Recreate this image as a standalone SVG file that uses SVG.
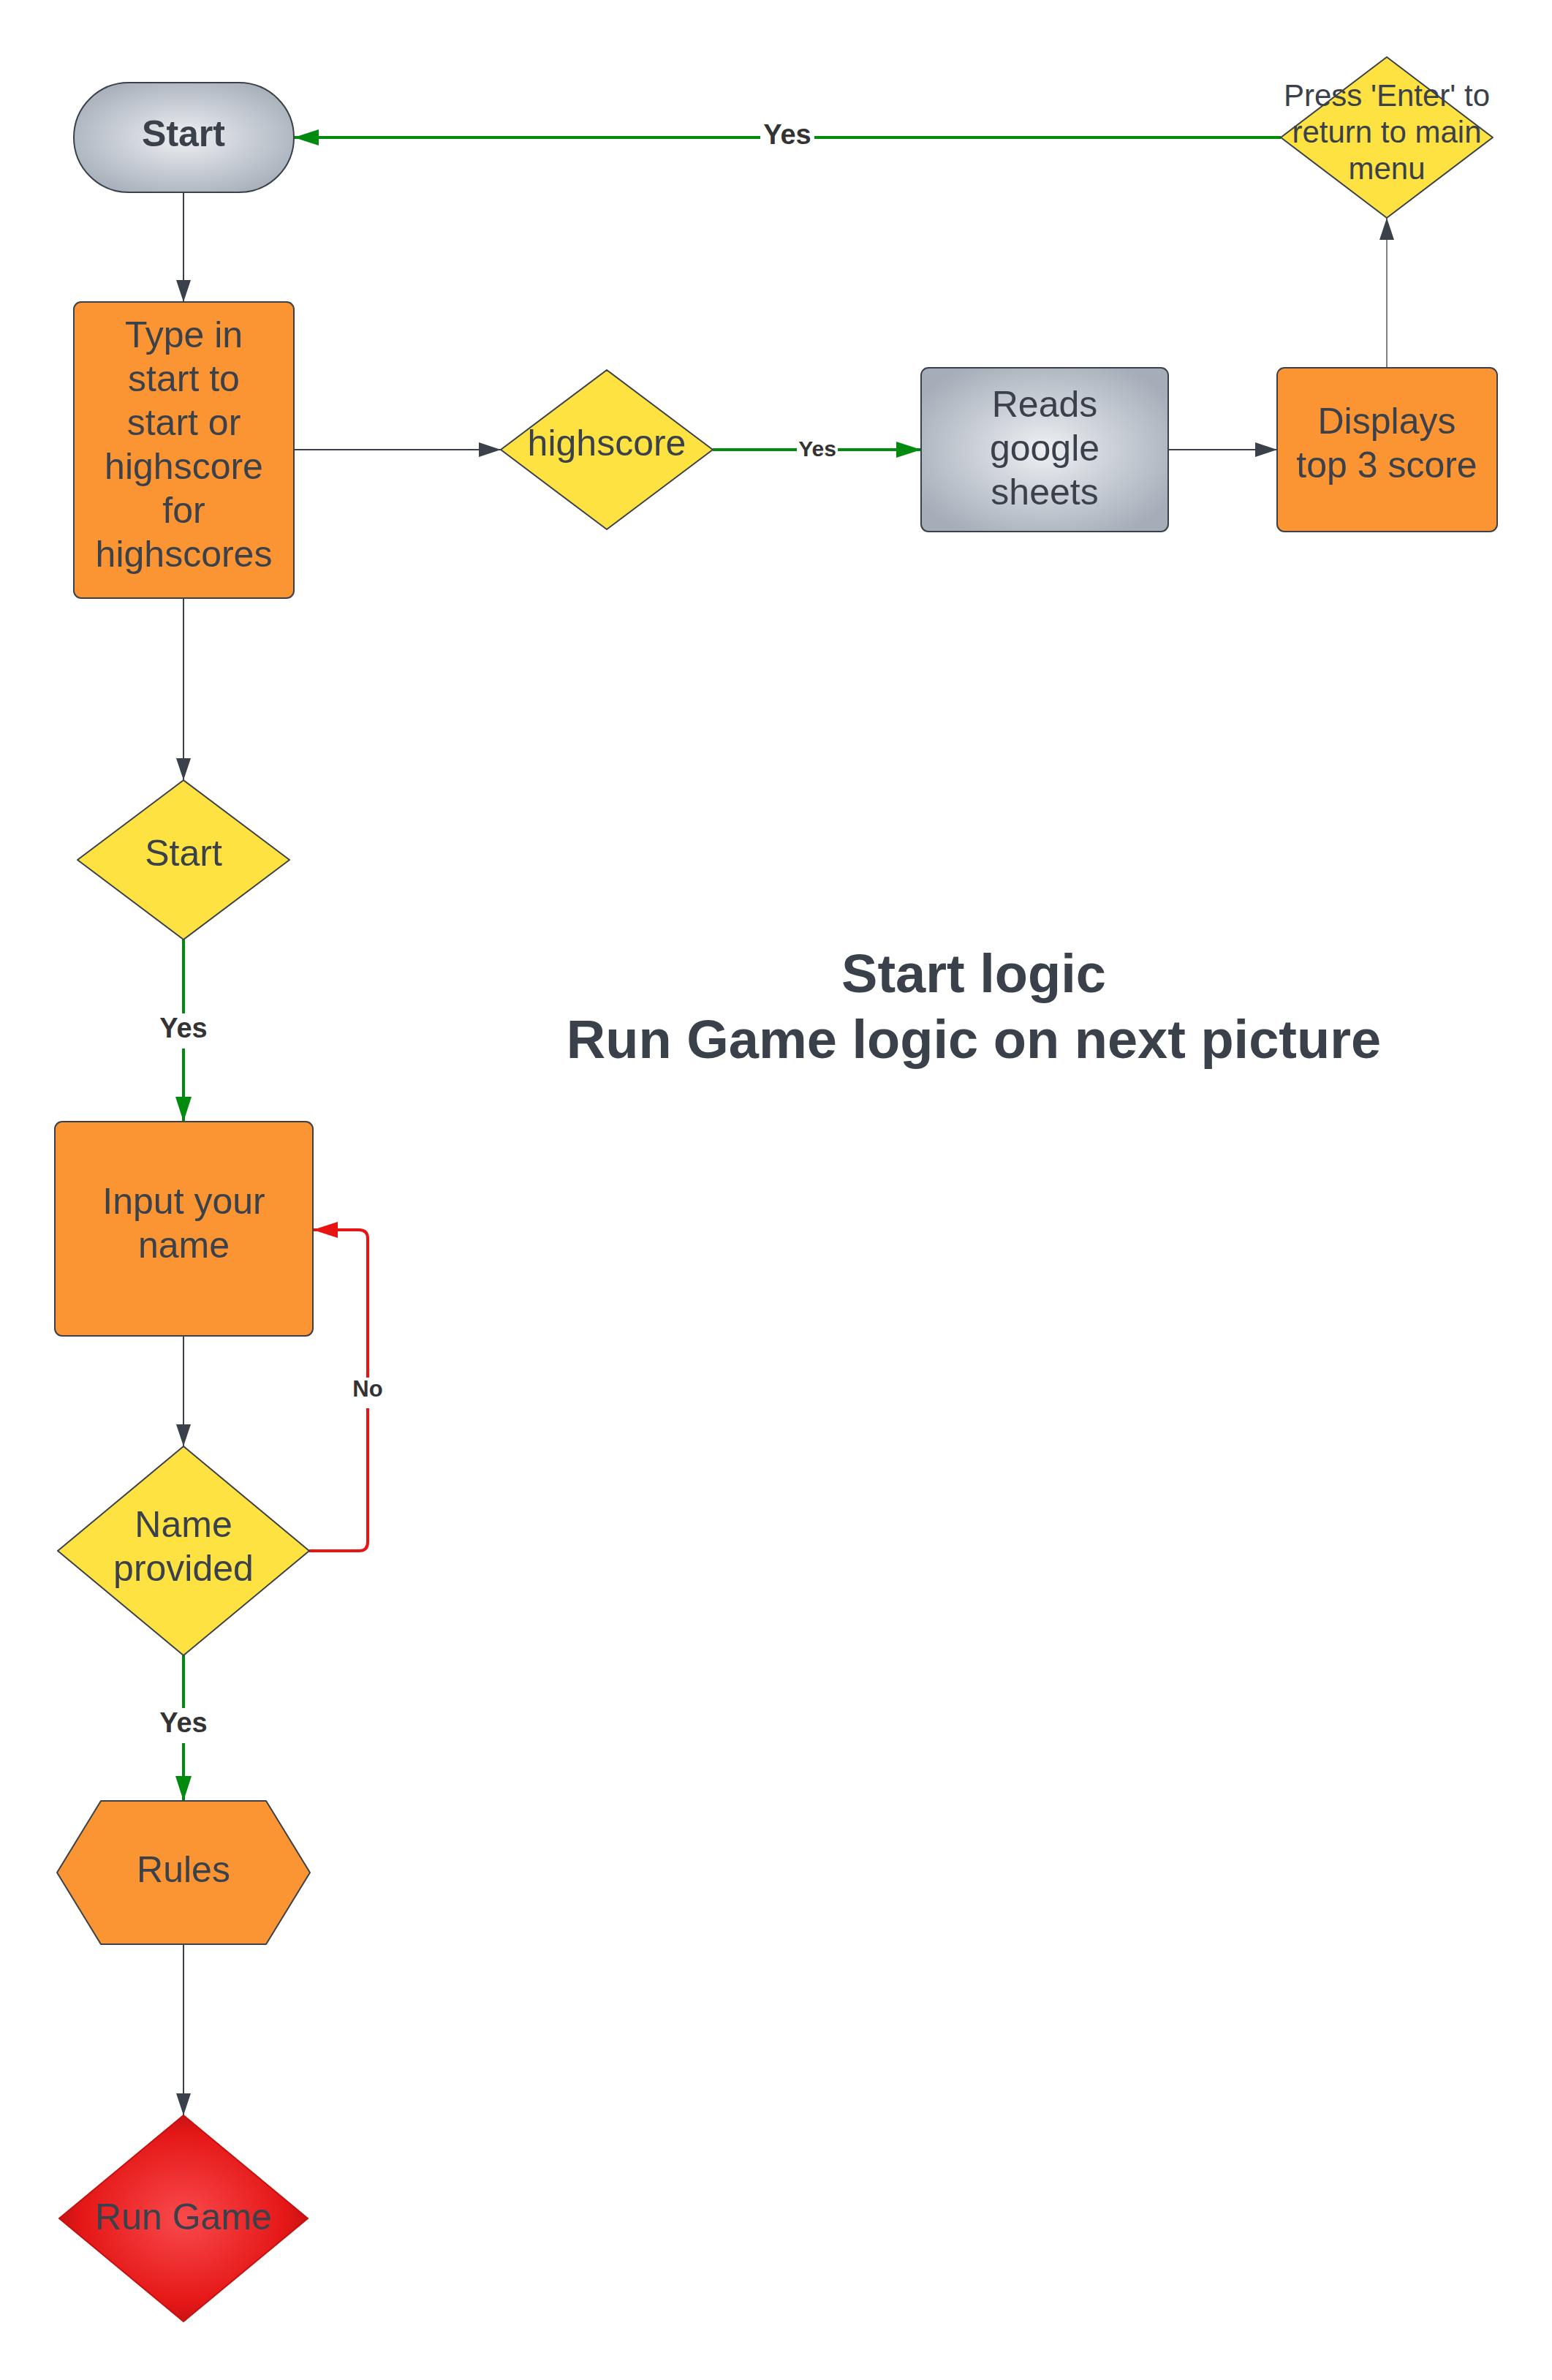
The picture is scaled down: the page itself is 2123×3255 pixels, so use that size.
<svg xmlns="http://www.w3.org/2000/svg" width="2123" height="3255" viewBox="0 0 2123 3255">
<defs>
<style>
.node{stroke:#3a414a;stroke-width:2;stroke-linejoin:round}
.orange{fill:#fb9533}
.yellow{fill:#fee242}
.t{font-family:"Liberation Sans",Arial,sans-serif;fill:#3a414a;text-anchor:middle}
.t48{font-size:50px}
.lbl{font-family:"Liberation Sans",Arial,sans-serif;fill:#333333;font-weight:bold;text-anchor:middle}
.dark{stroke:#3a414a;stroke-width:2;fill:none}
.green{stroke:#008a0e;stroke-width:4;fill:none}
.red{stroke:#e81313;stroke-width:4;fill:none;stroke-linejoin:round}
</style>
<radialGradient id="gGray" cx="50%" cy="50%" r="60%">
<stop offset="0" stop-color="#eef0f3"/>
<stop offset="1" stop-color="#a4adb8"/>
</radialGradient>
<radialGradient id="gRed" cx="50%" cy="50%" r="55%">
<stop offset="0" stop-color="#f94a4c"/>
<stop offset="0.75" stop-color="#e51717"/>
<stop offset="1" stop-color="#b81010"/>
</radialGradient>
<marker id="aDark" markerUnits="userSpaceOnUse" markerWidth="30" markerHeight="20" refX="30" refY="10" orient="auto">
<path d="M0,0 L30,10 L0,20 Z" fill="#3a414a"/>
</marker>
<marker id="aGreen" markerUnits="userSpaceOnUse" markerWidth="34" markerHeight="22" refX="34" refY="11" orient="auto">
<path d="M0,0 L34,11 L0,22 Z" fill="#008a0e"/>
</marker>
<marker id="aRed" markerUnits="userSpaceOnUse" markerWidth="34" markerHeight="22" refX="34" refY="11" orient="auto">
<path d="M0,0 L34,11 L0,22 Z" fill="#e81313"/>
</marker>
</defs>
<rect width="2123" height="3255" fill="#ffffff"/>

<g id="connectors">
<path class="dark" d="M251,263 L251,413" marker-end="url(#aDark)"/>
<path class="dark" d="M402,615 L685,615" marker-end="url(#aDark)"/>
<path class="green" d="M975,615 L1260,615" marker-end="url(#aGreen)"/>
<path class="dark" d="M1598,615 L1747,615" marker-end="url(#aDark)"/>
<path class="dark" style="stroke-width:1.3" d="M1897,503 L1897,298" marker-end="url(#aDark)"/>
<path class="green" d="M1752,188 L402,188" marker-end="url(#aGreen)"/>
<path class="dark" d="M251,818 L251,1067" marker-end="url(#aDark)"/>
<path class="green" d="M251,1285 L251,1534" marker-end="url(#aGreen)"/>
<path class="dark" d="M251,1827 L251,1978" marker-end="url(#aDark)"/>
<path class="red" d="M423,2121 L491,2121 Q503,2121 503,2109 L503,1694 Q503,1682 491,1682 L428,1682" marker-end="url(#aRed)"/>
<path class="green" d="M251,2264 L251,2463" marker-end="url(#aGreen)"/>
<path class="dark" d="M251,2659 L251,2893" marker-end="url(#aDark)"/>
<rect x="1040" y="165" width="74" height="40" fill="#ffffff"/>
<text class="lbl" x="1077" y="197" font-size="38">Yes</text>
<rect x="1090" y="600" width="56" height="30" fill="#ffffff"/>
<text class="lbl" x="1118" y="624" font-size="30">Yes</text>
<rect x="215" y="1386" width="72" height="48" fill="#ffffff"/>
<text class="lbl" x="251" y="1419" font-size="38">Yes</text>
<rect x="215" y="2336" width="72" height="48" fill="#ffffff"/>
<text class="lbl" x="251" y="2369" font-size="38">Yes</text>
<rect x="482" y="1884" width="42" height="42" fill="#ffffff"/>
<text class="lbl" x="503" y="1910" font-size="31">No</text>
</g>

<g id="start-terminal">
<rect class="node" x="101" y="113" width="301" height="150" rx="75" ry="75" fill="url(#gGray)"/>
<text class="t t48" x="251" y="200" font-weight="bold">Start</text>
</g>

<g id="type-in">
<rect class="node orange" x="101" y="413" width="301" height="405" rx="10"/>
<text class="t t48" x="251.5"><tspan x="251.5" y="475">Type in</tspan><tspan x="251.5" y="535">start to</tspan><tspan x="251.5" y="595">start or</tspan><tspan x="251.5" y="655">highscore</tspan><tspan x="251.5" y="715">for</tspan><tspan x="251.5" y="775">highscores</tspan></text>
</g>

<g id="highscore">
<path class="node yellow" d="M830,506 L975,615 L830,724 L685,615 Z"/>
<text class="t t48" x="830" y="623">highscore</text>
</g>

<g id="reads-sheets">
<rect class="node" x="1260" y="503" width="338" height="224" rx="10" fill="url(#gGray)"/>
<text class="t t48"><tspan x="1429" y="570">Reads</tspan><tspan x="1429" y="630">google</tspan><tspan x="1429" y="690">sheets</tspan></text>
</g>

<g id="displays">
<rect class="node orange" x="1747" y="503" width="301" height="224" rx="10"/>
<text class="t t48"><tspan x="1897" y="593">Displays</tspan><tspan x="1897" y="653">top 3 score</tspan></text>
</g>

<g id="press-enter">
<path class="node yellow" d="M1897,78 L2042,188 L1897,298 L1752,188 Z"/>
<text class="t" font-size="42"><tspan x="1897" y="145">Press 'Enter' to</tspan><tspan x="1897" y="195">return to main</tspan><tspan x="1897" y="245">menu</tspan></text>
</g>

<g id="start-decision">
<path class="node yellow" d="M251,1067 L396,1176 L251,1285 L106,1176 Z"/>
<text class="t t48" x="251" y="1184">Start</text>
</g>

<g id="input-name">
<rect class="node orange" x="75" y="1534" width="353" height="293" rx="10"/>
<text class="t t48"><tspan x="251.5" y="1660">Input your</tspan><tspan x="251.5" y="1720">name</tspan></text>
</g>

<g id="name-provided">
<path class="node yellow" d="M251,1978 L423,2121 L251,2264 L79,2121 Z"/>
<text class="t t48"><tspan x="251" y="2102">Name</tspan><tspan x="251" y="2162">provided</tspan></text>
</g>

<g id="rules">
<path class="node orange" d="M78,2561 L138,2463 L364,2463 L424,2561 L364,2659 L138,2659 Z"/>
<text class="t t48" x="251" y="2574">Rules</text>
</g>

<g id="run-game">
<path d="M251,2893 L421,3034 L251,3175 L81,3034 Z" fill="url(#gRed)" stroke="#c41212" stroke-width="2" stroke-linejoin="round"/>
<text class="t t48" x="251" y="3049">Run Game</text>
</g>

<g id="title">
<text class="t" font-size="74" font-weight="bold"><tspan x="1332" y="1357">Start logic</tspan><tspan x="1332" y="1447">Run Game logic on next picture</tspan></text>
</g>
</svg>
